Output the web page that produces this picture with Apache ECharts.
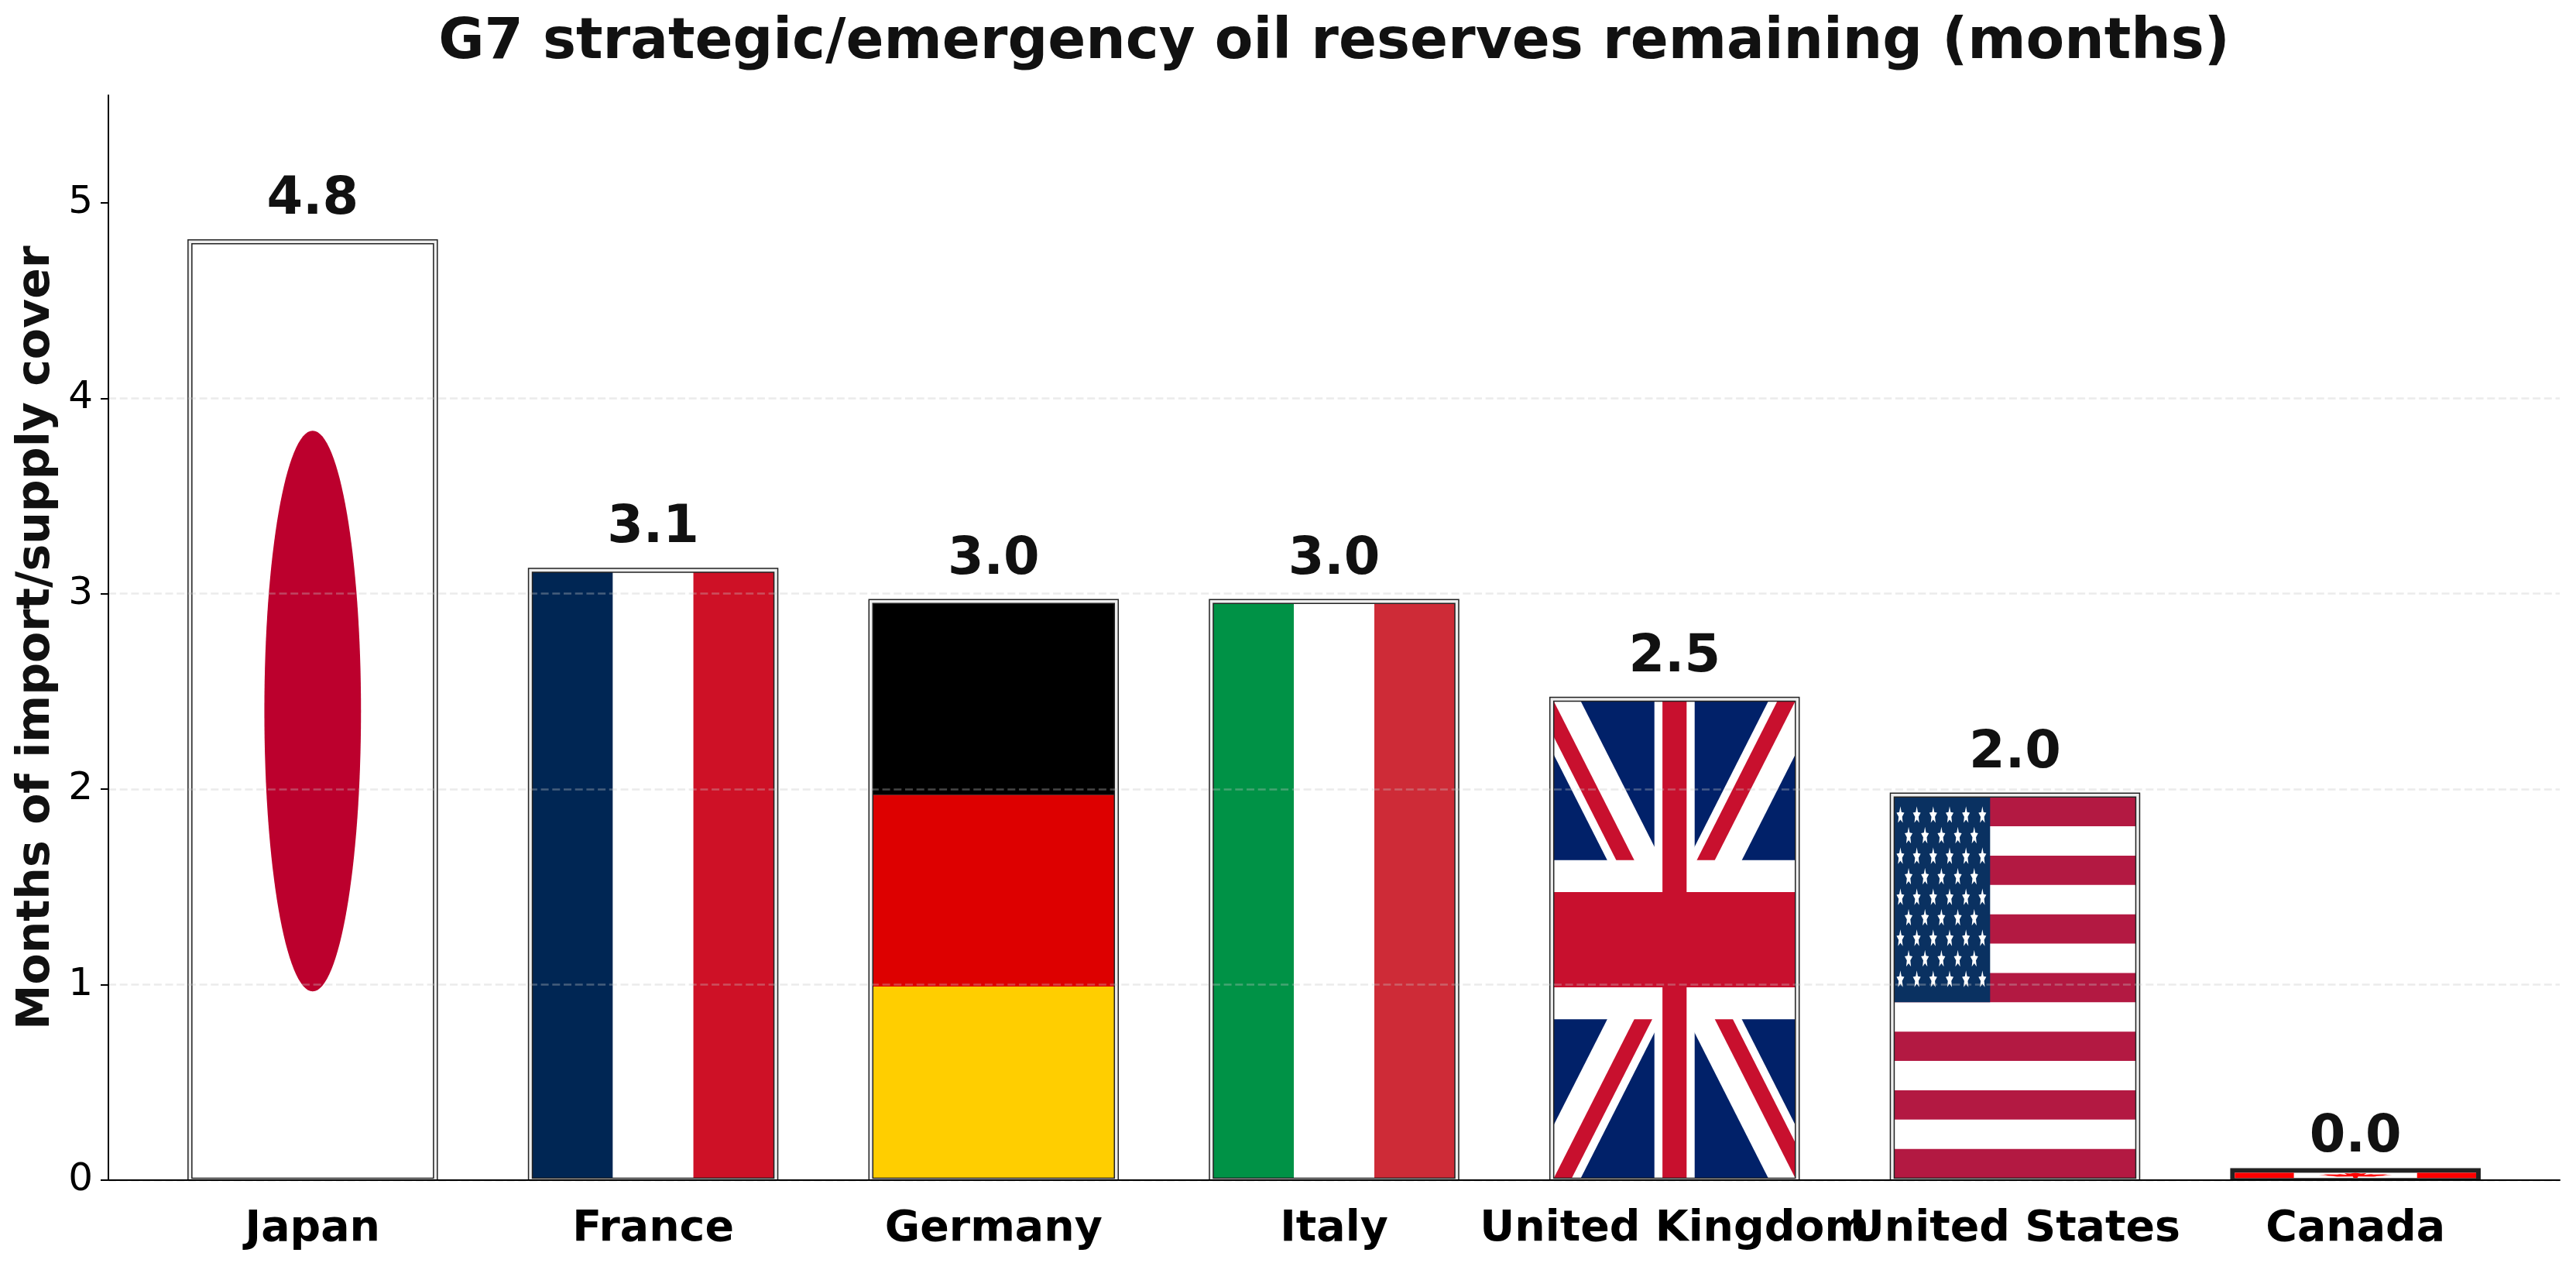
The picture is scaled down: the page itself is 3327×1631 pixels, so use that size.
<!DOCTYPE html>
<html>
<head>
<meta charset="utf-8">
<title>G7 oil reserves</title>
<style>html,body{margin:0;padding:0;background:#fff}#chart{width:3327px;height:1631px}</style>
<script src="https://cdn.jsdelivr.net/npm/echarts@6/dist/echarts.min.js"></script>
</head>
<body>
<div id="chart"></div>
<script>
// Reported cover per country, in months of imports or supply.
const countries = ['Japan', 'France', 'Germany', 'Italy', 'United Kingdom', 'United States', 'Canada'];
const monthsOfCover = [4.80, 3.12, 2.96, 2.96, 2.46, 1.97, 0.049];
const flagKeys = ['jp', 'fr', 'de', 'it', 'gb', 'us', 'ca'];
const yTicks = [0, 1, 2, 3, 4, 5];

const FONT = 'DejaVu Sans';
const BAR_WIDTH = 317;   // px, centre line of the double frame
const FRAME_OFFSET = 2.5; // px, frame lines sit this far either side of the bar edge
const LABEL_GAP = 20;     // px between a bar top and its value label
const LABEL_GAP_SHORT = 9; // tighter gap over a bar that barely leaves the axis

// Helpers that paint a flag into the rect {x, y, w, h}.
const rect = (r, fx, fy, fw, fh, fill) => ({
  type: 'rect', silent: true,
  shape: { x: r.x + fx * r.w, y: r.y + fy * r.h, width: fw * r.w, height: fh * r.h },
  style: { fill }
});
const poly = (r, pts, fill) => ({
  type: 'polygon', silent: true,
  shape: { points: pts.map(p => [r.x + p[0] * r.w, r.y + p[1] * r.h]) },
  style: { fill }
});
const vertical = (r, cols) => cols.map((c, i) => rect(r, i / 3, 0, 1 / 3, 1, c));
const horizontal = (r, cols) => cols.map((c, i) => rect(r, 0, i / 3, 1, 1 / 3, c));

function unionJack(r) {
  const U = p => [p[0] / 60, p[1] / 30];
  const white = 3.354, red = 2.236;
  const els = [rect(r, 0, 0, 1, 1, '#012169')];
  // white saltire
  [[[0, 0], [60, 30]], [[60, 0], [0, 30]]].forEach(([a, b]) => {
    els.push(poly(r, [[a[0], a[1] - white], [b[0], b[1] - white], [b[0], b[1] + white], [a[0], a[1] + white]].map(U), '#fff'));
  });
  // counterchanged red saltire
  [
    [[0, 0], [30, 15], [30, 15 + red], [0, red]],
    [[60, 0], [30, 15], [30, 15 - red], [60, -red]],
    [[0, 30], [30, 15], [30, 15 + red], [0, 30 + red]],
    [[60, 30], [30, 15], [30, 15 - red], [60, 30 - red]]
  ].forEach(q => els.push(poly(r, q.map(U), '#C8102E')));
  // St George's cross with its white border
  els.push(rect(r, 25 / 60, 0, 10 / 60, 1, '#fff'), rect(r, 0, 10 / 30, 1, 10 / 30, '#fff'));
  els.push(rect(r, 27 / 60, 0, 6 / 60, 1, '#C8102E'), rect(r, 0, 12 / 30, 1, 6 / 30, '#C8102E'));
  return els;
}

function star(cx, cy, rx, ry) {
  const pts = [];
  for (let k = 0; k < 10; k++) {
    const a = -Math.PI / 2 + k * Math.PI / 5;
    const s = k % 2 ? 0.45 : 1;
    pts.push([cx + Math.cos(a) * rx * s, cy + Math.sin(a) * ry * s]);
  }
  return pts;
}

function starsAndStripes(r) {
  const els = [rect(r, 0, 0, 1, 1, '#fff')];
  for (let i = 0; i < 13; i += 2) els.push(rect(r, 0, i / 13, 1, 1 / 13, '#B31942'));
  const cw = 0.397, ch = 7 / 13;
  els.push(rect(r, 0, 0, cw, ch, '#0A3161'));
  for (let row = 0; row < 9; row++) {
    const odd = row % 2 === 1;
    for (let col = 0; col < (odd ? 5 : 6); col++) {
      const fx = (odd ? 0.15 : 0.0645) + col * 0.171;
      const fy = 0.09 + row * 0.1;
      els.push(poly(r, star(fx * cw, fy * ch, 0.017, 0.024), '#fff'));
    }
  }
  return els;
}

function mapleLeaf(r) {
  const half = [[.5, 0], [.44, .16], [.38, .10], [.41, .40], [.33, .28], [.30, .36], [.15, .30], [.20, .47], [.10, .50],
    [.30, .68], [.26, .76], [.47, .72], [.48, 1]];
  const outline = half.concat(half.slice().reverse().slice(0, -1).map(p => [1 - p[0], p[1]]));
  const pts = outline.map(p => [0.25 + 0.5 * (0.12 + 0.76 * p[0]), 0.04 + 0.92 * p[1]]);
  return [rect(r, 0, 0, 1, 1, '#fff'), rect(r, 0, 0, .245, 1, '#F00'), rect(r, .755, 0, .245, 1, '#F00'), poly(r, pts, '#F00')];
}

const flagPainters = {
  jp: r => [rect(r, 0, 0, 1, 1, '#fff'), {
    type: 'ellipse', silent: true,
    shape: { cx: r.x + r.w / 2, cy: r.y + r.h / 2, rx: 0.2 * r.w, ry: 0.3 * r.h },
    style: { fill: '#BC002D' }
  }],
  fr: r => vertical(r, ['#002654', '#fff', '#CE1126']),
  de: r => horizontal(r, ['#000', '#DD0000', '#FFCE00']),
  it: r => vertical(r, ['#009246', '#fff', '#CE2B37']),
  gb: unionJack,
  us: starsAndStripes,
  ca: mapleLeaf
};

function renderFlagBar(params, api) {
  const i = api.value(0);
  const top = api.coord([i, api.value(1)]);
  const base = api.coord([i, 0]);
  const x0 = top[0] - BAR_WIDTH / 2;
  const outer = { x: x0 - FRAME_OFFSET, y: top[1] - FRAME_OFFSET, w: BAR_WIDTH + 2 * FRAME_OFFSET, h: base[1] - top[1] + FRAME_OFFSET };
  const inner = { x: x0 + FRAME_OFFSET, y: top[1] + FRAME_OFFSET, w: BAR_WIDTH - 2 * FRAME_OFFSET, h: base[1] - top[1] - 2 * FRAME_OFFSET };
  const squat = inner.h < 20; // very short bars fuse the two frame lines
  const frame = (r, stroke, lineWidth, fill) => ({
    type: 'rect', silent: true,
    shape: { x: r.x, y: r.y, width: r.w, height: r.h },
    style: { fill, stroke, lineWidth }
  });
  return {
    type: 'group',
    children: [
      frame(outer, '#222', 1.5, squat ? '#222' : '#EEE'),
      { type: 'group', children: flagPainters[flagKeys[i]](inner),
        clipPath: { type: 'rect', shape: { x: inner.x, y: inner.y, width: inner.w, height: inner.h } } },
      frame(inner, squat ? null : '#222', 1.5, null)
    ]
  };
}

const chart = echarts.init(document.getElementById('chart'), null, { renderer: 'canvas' });
chart.setOption({
  animation: false,
  backgroundColor: '#fff',
  title: {
    text: 'G7 strategic/emergency oil reserves remaining (months)',
    left: 1718, top: 15, textAlign: 'center',
    textStyle: { fontFamily: FONT, fontWeight: 'bold', fontSize: 72.3, color: '#111' }
  },
  grid: { left: 140, right: 21, top: 123, bottom: 107, outerBoundsMode: 'none' },
  xAxis: {
    type: 'value', min: -0.6, max: 6.6, z: 6,
    axisLine: { onZero: false, lineStyle: { color: '#000', width: 2 } },
    axisTick: { show: false },
    splitLine: { show: false },
    axisLabel: {
      customValues: countries.map((_, i) => i),
      formatter: v => countries[v],
      margin: 36, hideOverlap: false, showMinLabel: true, showMaxLabel: true,
      fontFamily: FONT, fontWeight: 'bold', fontSize: 55.4, color: '#000'
    }
  },
  yAxis: {
    type: 'value', min: 0, max: 5.55, z: 3,
    name: 'Months of import/supply cover',
    nameLocation: 'middle', nameGap: 62,
    nameTextStyle: { fontFamily: FONT, fontWeight: 'bold', fontSize: 58.5, color: '#111' },
    axisLine: { show: true, onZero: false, lineStyle: { color: '#000', width: 2 } },
    axisTick: { show: true, length: 10, customValues: yTicks, lineStyle: { color: '#000', width: 2 } },
    axisLabel: { customValues: yTicks, margin: 20, fontFamily: FONT, fontSize: 50, color: '#000' },
    splitLine: { show: true, showMaxLine: false, lineStyle: { color: 'rgba(198,198,198,0.35)', width: 2.7, type: [10, 4.7] } }
  },
  series: [
    {
      type: 'custom', z: 2, clip: false,
      renderItem: renderFlagBar,
      data: monthsOfCover.map((v, i) => [i, v])
    },
    {
      type: 'bar', z: 4, barWidth: BAR_WIDTH, silent: true,
      itemStyle: { color: 'rgba(0,0,0,0)' },
      label: {
        show: true, position: 'top', distance: LABEL_GAP,
        formatter: p => p.value[1].toFixed(1),
        fontFamily: FONT, fontWeight: 'bold', fontSize: 67, color: '#111'
      },
      data: monthsOfCover.map((v, i) => (v < 0.05
        ? { value: [i, v], label: { distance: LABEL_GAP_SHORT } }
        : { value: [i, v] }))
    }
  ]
});
</script>
</body>
</html>
